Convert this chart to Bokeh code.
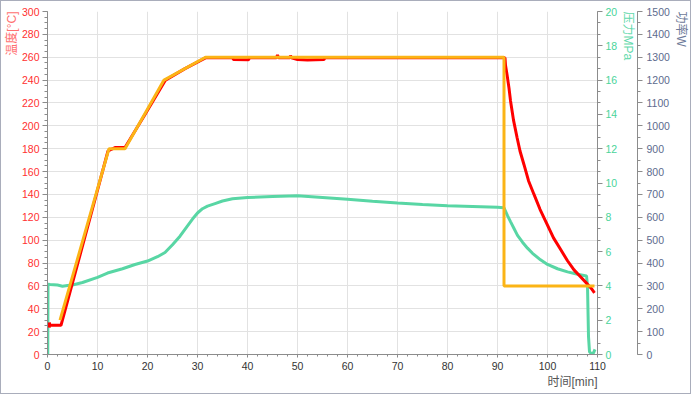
from bokeh.plotting import figure
from bokeh.models import Range1d, LinearAxis, SingleIntervalTicker, Title
from bokeh.embed import file_html
from bokeh.resources import INLINE

# ---- data ----
set_t = [2.5, 12.3, 15.5, 23.3, 31.6, 91.3, 91.3, 109.4]
set_temp = [30, 180, 180, 240, 260, 260, 60, 60]

act_t = [0.35, 0.38, 0.45, 2.7, 7.0, 12.1, 13.5, 15.5, 19.5, 23.6, 27.5, 31.6,
         37.0, 37.2, 40.2, 40.4, 45.8, 46.0, 46.2, 48.5, 48.6, 48.8, 50.0, 52.0,
         55.3, 55.5, 91.5, 91.6, 91.9, 92.3, 92.6, 93.2, 93.9, 94.5, 95.3, 96.2,
         97.3, 98.5, 99.9, 101.2, 102.6, 104.0, 105.3, 106.6, 107.9, 108.9, 109.4]
act_temp = [23.5, 28, 25.5, 25.5, 95, 178, 181, 181, 210, 240, 250, 259.5,
            259.5, 258, 257.8, 259.5, 259.5, 262, 259.5, 259.5, 261.5, 259.5, 258, 257.5,
            258, 259.5, 259.5, 253, 245, 233, 222, 205, 190, 178, 166, 152,
            140, 127, 114, 102, 92, 82, 74, 68, 62, 57, 54]

pres_t = [0.05, 0.1, 0.5, 2.0, 3.0, 4.0, 5.0, 7.0, 10.0, 12.0, 15.0, 17.5, 20.0,
          22.0, 23.5, 25.0, 26.5, 28.0, 29.0, 30.0, 31.0, 32.0, 33.5, 35.0, 37.0,
          40.0, 45.0, 50.0, 55.0, 60.0, 65.0, 70.0, 75.0, 80.0, 85.0, 90.0, 91.3,
          92.0, 92.6, 93.3, 94.0, 95.0, 96.0, 97.0, 98.6, 100.0, 102.0, 104.0, 106.0,
          107.8, 108.0, 108.2, 108.4, 108.8, 109.2, 109.5]
pres_val = [0.0, 4.1, 4.08, 4.05, 3.98, 4.02, 4.05, 4.2, 4.5, 4.75, 5.0, 5.25, 5.45,
            5.7, 5.95, 6.4, 6.9, 7.5, 7.9, 8.25, 8.5, 8.65, 8.8, 8.95, 9.08,
            9.15, 9.22, 9.25, 9.15, 9.05, 8.93, 8.83, 8.75, 8.68, 8.63, 8.58, 8.55,
            8.1, 7.75, 7.35, 6.95, 6.55, 6.2, 5.9, 5.52, 5.25, 5.0, 4.82, 4.68,
            4.58, 4.0, 1.05, 0.15, 0.05, 0.1, 0.3]

x_label = "时间[min]"
temp_label = "温度[°C]"
pres_label = "压力MPa"
pow_label = "功率W"

RED = "#ff0000"
ORANGE = "#fbb416"
GREEN = "#58d6a4"
SLATE = "#5d6b8e"
AXC = "#8c8c8c"
FONT = "'Liberation Sans Narrow', 'Liberation Sans', sans-serif"
CJK = "'Liberation Sans', 'Noto Sans CJK SC', sans-serif"

p = figure(width=691, height=394, output_backend="svg", toolbar_location=None,
           x_range=Range1d(0, 110), y_range=Range1d(0, 300),
           min_border_left=46, min_border_top=10, min_border_right=95, min_border_bottom=41,
           background_fill_color="white", border_fill_color="white")
p.styles = {"border": "1px solid #a9adbb"}
p.outline_line_color = None
p.extra_y_ranges = {"pres": Range1d(0, 20), "pow": Range1d(0, 1500)}

p.xaxis.ticker = SingleIntervalTicker(interval=10, num_minor_ticks=5)
p.yaxis.ticker = SingleIntervalTicker(interval=20, num_minor_ticks=4)
p.xgrid.grid_line_color = "#e2e2e2"
p.ygrid.grid_line_color = "#e2e2e2"

def style_axis(ax, color):
    ax.axis_line_color = AXC
    ax.major_tick_line_color = AXC
    ax.minor_tick_line_color = AXC
    ax.major_tick_in = 0
    ax.minor_tick_in = 0
    ax.major_tick_out = 5
    ax.minor_tick_out = 3
    ax.major_label_text_font = FONT
    ax.major_label_text_font_size = "10.5px"
    ax.major_label_text_color = color

def axis_title(text, color, align, standoff=2):
    return Title(text=text, align=align, text_font=CJK, text_font_size="12px",
                 text_font_style="normal", text_color=color, standoff=standoff)

xa = p.xaxis[0]
style_axis(xa, "#333333")
xa.major_tick_out = 3
xa.minor_tick_out = 2
xa.major_label_standoff = 4

ya = p.yaxis[0]
style_axis(ya, "#ff3030")
ya.major_label_standoff = 3

pa = LinearAxis(y_range_name="pres",
                ticker=SingleIntervalTicker(interval=2, num_minor_ticks=3))
style_axis(pa, "#49d49a")
pa.major_label_standoff = 3
p.add_layout(pa, "right")
p.add_layout(axis_title(pres_label, "#62d9ab", "left", standoff=1), "right")

wa = LinearAxis(y_range_name="pow",
                ticker=SingleIntervalTicker(interval=100, num_minor_ticks=2))
style_axis(wa, SLATE)
wa.major_label_standoff = 4
p.add_layout(wa, "right")
p.add_layout(axis_title(pow_label, "#6d7a99", "left"), "right")

p.add_layout(axis_title(temp_label, "#ff7070", "right", standoff=0), "left")
p.add_layout(axis_title(x_label, "#555555", "right", standoff=0), "below")

p.line(pres_t, pres_val, y_range_name="pres", line_color=GREEN, line_width=3)
p.line(act_t, act_temp, line_color=RED, line_width=3)
p.line(set_t, set_temp, line_color=ORANGE, line_width=3)

open("out.html", "w").write(file_html(p, INLINE))
